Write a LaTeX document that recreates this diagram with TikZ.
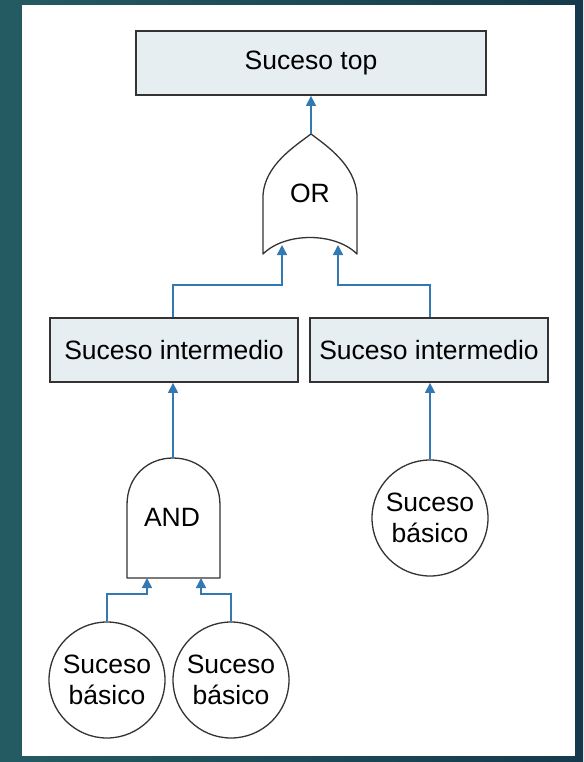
\documentclass[tikz,border=0pt]{standalone}
\usepackage{fontspec}
\setmainfont{Liberation Sans}
\usetikzlibrary{arrows.meta}
\definecolor{bgL}{HTML}{245B62}
\definecolor{bgR}{HTML}{153A4B}
\definecolor{boxfill}{HTML}{E6EEF2}
\definecolor{link}{HTML}{3279B3}
\definecolor{edge}{HTML}{333333}
\begin{document}
\begin{tikzpicture}[x=1pt,y=-1pt,
  every node/.style={font=\fontsize{26.5}{31}\selectfont, text=black},
  evbox/.style={draw=edge, line width=1.8pt, fill=boxfill, minimum height=64pt, inner sep=0pt},
  basic/.style={draw=edge, line width=1.3pt, fill=white, circle, minimum size=116pt, inner sep=0pt, align=center},
  gate/.style={draw=edge, line width=1.3pt, fill=white, line join=round},
  conn/.style={draw=link, line width=1.5pt, -{Triangle[length=10pt,width=10pt]}}]
\useasboundingbox (0,0) rectangle (583,762);
\shade[left color=bgL, right color=bgR] (0,0) rectangle (583,762);
\fill[white] (22,5) rectangle (575,756);
% gates outlines
\path[gate] (263,254) -- (263,195) .. controls (265,165) and (295,146) .. (311,134)
  .. controls (327,146) and (355,165) .. (357,195) -- (357,254)
  .. controls (335,232) and (285,232) .. cycle;
\path[gate] (127,578) -- (127,505) .. controls (127,476) and (148,458) .. (173,458)
  .. controls (198,458) and (220,476) .. (220,505) -- (220,578) -- cycle;
% nodes
\node[evbox, minimum width=350pt] (top) at (311,63) {Suceso top};
\node (or) at (310,193) {OR};
\node (and) at (172,517) {AND};
\node[evbox, minimum width=248pt] (im1) at (174,350) {Suceso intermedio};
\node[evbox, minimum width=238pt] (im2) at (429,350) {Suceso intermedio};
\node[basic] (b1) at (107,680) {Suceso\\básico};
\node[basic] (b2) at (231,680) {Suceso\\básico};
\node[basic] (b3) at (430,518) {Suceso\\básico};
% gate ports
\coordinate (orout) at (311,134);
\coordinate (orin1) at (282,245);
\coordinate (orin2) at (338,245);
\coordinate (andout) at (173,458);
\coordinate (andin1) at (147,578);
\coordinate (andin2) at (201,578);
% connectors
\path[conn] (orout) -- (top.south -| orout);
\path[conn] (im1.north -| 173,0) |- (0,285 -| orin1) -- (orin1);
\path[conn] (im2.north -| 430,0) |- (0,285 -| orin2) -- (orin2);
\path[conn] (andout) -- (im1.south -| andout);
\path[conn] (b1.north) |- (0,594 -| andin1) -- (andin1);
\path[conn] (b2.north) |- (0,594 -| andin2) -- (andin2);
\path[conn] (b3.north) -- (im2.south -| b3.north);
\end{tikzpicture}
\end{document}
